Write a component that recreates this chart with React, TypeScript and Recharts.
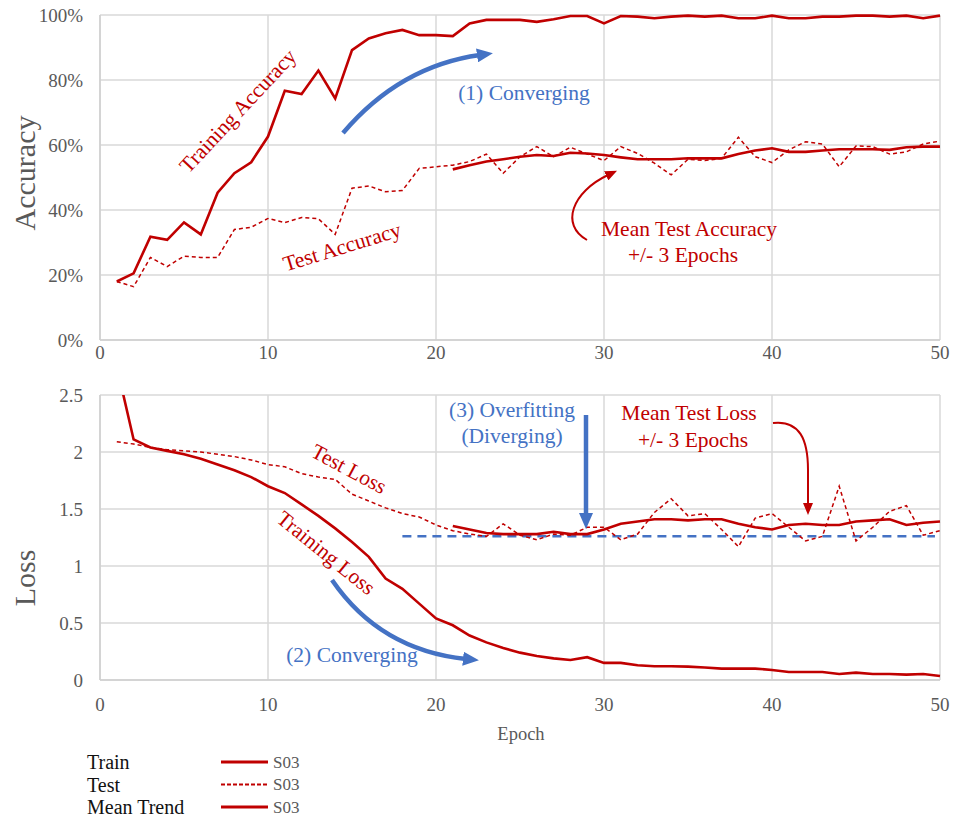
import { LineChart, Line, XAxis, YAxis, CartesianGrid, ReferenceLine } from "recharts";

// ─── Data ─────────────────────────────────────────
const epochs = [
  1, 2, 3, 4, 5, 6, 7, 8, 9, 10, 11, 12, 13, 14, 15, 16, 17, 18, 19, 20, 21, 22, 23, 24, 25,
  26, 27, 28, 29, 30, 31, 32, 33, 34, 35, 36, 37, 38, 39, 40, 41, 42, 43, 44, 45, 46, 47, 48, 49, 50,
];

const trainAcc = [
  18, 20.5, 31.8, 30.8, 36.2, 32.5, 45.3, 51.3, 54.7, 62.6,
  76.7, 75.7, 82.9, 74.3, 89.2, 92.8, 94.4, 95.4, 93.8, 93.8,
  93.5, 97.4, 98.5, 98.5, 98.5, 97.9, 98.7, 99.7, 99.7, 97.4,
  99.7, 99.5, 99, 99.5, 99.8, 99.5, 99.8, 99, 99, 99.8,
  99, 99, 99.5, 99.5, 99.8, 99.8, 99.5, 99.8, 99, 99.8,
];

const testAcc = [
  18, 16.4, 25.4, 22.6, 25.8, 25.4, 25.4, 34, 34.7, 37.4,
  36.1, 37.7, 37.3, 32.5, 46.7, 47.4, 45.6, 46, 52.8, 53.3,
  53.8, 54.9, 57.2, 51.3, 56.4, 59.5, 56.4, 59.3, 57.2, 55.2,
  59.5, 57.4, 54.4, 50.8, 55.6, 55.2, 55.9, 62.4, 56.4, 54.6,
  58.5, 61, 60.3, 53.3, 59.7, 59.5, 57.2, 57.9, 60.3, 61.2,
];

// mean trend (+/- 3 epochs) starts at epoch 21
const meanStart = 21;
const meanTestAcc = [
  52.5, 53.8, 54.9, 55.6, 56.4, 56.9, 56.6, 57.6, 57.4, 56.9,
  56.2, 55.6, 55.6, 55.6, 55.9, 55.9, 55.9, 57.2, 58.3, 59,
  57.9, 57.9, 58.3, 58.7, 58.7, 58.7, 58.5, 59.3, 59.5, 59.5,
];

const trainLoss = [
  2.75, 2.11, 2.04, 2.01, 1.98, 1.94, 1.89, 1.84, 1.78, 1.7,
  1.64, 1.54, 1.44, 1.33, 1.21, 1.08, 0.89, 0.8, 0.67, 0.54,
  0.48, 0.39, 0.33, 0.28, 0.24, 0.21, 0.19, 0.175, 0.2, 0.15,
  0.15, 0.13, 0.12, 0.12, 0.117, 0.11, 0.1, 0.1, 0.1, 0.088,
  0.07, 0.07, 0.07, 0.053, 0.065, 0.053, 0.053, 0.047, 0.053, 0.035,
];

const testLoss = [
  2.09, 2.07, 2.04, 2.02, 2.01, 2.0, 1.98, 1.96, 1.93, 1.89,
  1.87, 1.81, 1.78, 1.76, 1.63, 1.57, 1.51, 1.46, 1.43, 1.36,
  1.31, 1.28, 1.26, 1.37, 1.27, 1.23, 1.28, 1.27, 1.34, 1.34,
  1.23, 1.28, 1.47, 1.59, 1.44, 1.46, 1.32, 1.17, 1.42, 1.46,
  1.34, 1.22, 1.26, 1.7, 1.22, 1.34, 1.48, 1.53, 1.27, 1.31,
];

const meanTestLoss = [
  1.35, 1.32, 1.29, 1.28, 1.28, 1.28, 1.3, 1.28, 1.28, 1.32,
  1.37, 1.39, 1.41, 1.41, 1.4, 1.41, 1.41, 1.37, 1.34, 1.32,
  1.36, 1.37, 1.36, 1.36, 1.39, 1.4, 1.41, 1.36, 1.38, 1.39,
];

const overfitLevel = 1.26;
const overfitFrom = 18;
const overfitTo = 49.7;

const xTicks = [0, 10, 20, 30, 40, 50];
const accTicks = [0, 20, 40, 60, 80, 100];
const lossTicks = [0, 0.5, 1, 1.5, 2, 2.5];

const legendRows = [
  { label: "Train", dash: undefined },
  { label: "Test", dash: "4 2" },
  { label: "Mean Trend", dash: undefined },
];

// ─── Tables ───────────────────────────────────────
const accData = epochs.map((e, i) => ({
  epoch: e,
  train: trainAcc[i],
  test: testAcc[i],
  mean: e >= meanStart ? meanTestAcc[e - meanStart] : null,
}));

const lossData = epochs.map((e, i) => ({
  epoch: e,
  train: trainLoss[i],
  test: testLoss[i],
  mean: e >= meanStart ? meanTestLoss[e - meanStart] : null,
}));

// ─── Styles ───────────────────────────────────────
const RED = "#C00000";
const BLUE = "#4472C4";
const GRID = "#d9d9d9";
const FONT = "'Liberation Serif', 'Times New Roman', serif";
const tick = { fontFamily: FONT, fontSize: 19, fill: "#595959" };
const ANN = 21.5; // annotation font size

export default function App() {
  const lines = (
    <>
      <Line type="linear" dataKey="test" stroke={RED} strokeWidth={1.5} strokeDasharray="4 3" dot={false} isAnimationActive={false} />
      <Line type="linear" dataKey="train" stroke={RED} strokeWidth={2.6} dot={false} isAnimationActive={false} />
      <Line type="linear" dataKey="mean" stroke={RED} strokeWidth={2.6} dot={false} isAnimationActive={false} />
    </>
  );

  return (
    <div style={{ position: "absolute", left: 0, top: 0, width: 955, height: 818, background: "#fff", fontFamily: FONT }}>
      <style>{`svg text, svg tspan { font-family: 'Liberation Serif', 'Times New Roman', serif !important; }`}</style>
      <div style={{ position: "absolute", left: 0, top: 0 }}>
        <LineChart width={955} height={370} data={accData} margin={{ top: 15, right: 15, left: 0, bottom: 0 }}>
          <CartesianGrid stroke={GRID} strokeWidth={1.5} />
          <XAxis
            dataKey="epoch"
            type="number"
            domain={[0, 50]}
            ticks={xTicks}
            height={30}
            tick={tick}
            tickLine={false}
            tickMargin={0}
            axisLine={{ stroke: "#cfcfcf", strokeWidth: 1.5 }}
          />
          <YAxis
            type="number"
            domain={[0, 100]}
            ticks={accTicks}
            width={100}
            tick={tick}
            tickLine={false}
            tickMargin={11}
            axisLine={{ stroke: "#cfcfcf", strokeWidth: 1.5 }}
            tickFormatter={(v: number) => `${v}%`}
          />
          {lines}
        </LineChart>
      </div>

      <div style={{ position: "absolute", left: 0, top: 370 }}>
        <LineChart width={955} height={372} data={lossData} margin={{ top: 25, right: 15, left: 0, bottom: 0 }}>
          <CartesianGrid stroke={GRID} strokeWidth={1.5} />
          <XAxis
            dataKey="epoch"
            type="number"
            domain={[0, 50]}
            ticks={xTicks}
            height={62}
            tick={tick}
            tickLine={false}
            tickMargin={12}
            axisLine={{ stroke: "#cfcfcf", strokeWidth: 1.5 }}
          />
          <YAxis
            type="number"
            domain={[0, 2.5]}
            allowDataOverflow
            ticks={lossTicks}
            width={100}
            tick={tick}
            tickLine={false}
            tickMargin={11}
            axisLine={{ stroke: "#cfcfcf", strokeWidth: 1.5 }}
          />
          <ReferenceLine
            segment={[
              { x: overfitFrom, y: overfitLevel },
              { x: overfitTo, y: overfitLevel },
            ]}
            stroke={BLUE}
            strokeWidth={2.5}
            strokeDasharray="9 6"
          />
          {lines}
        </LineChart>
      </div>

      {/* annotations, axis titles and legend */}
      <svg width={955} height={818} style={{ position: "absolute", left: 0, top: 0, pointerEvents: "none" }} fontFamily={FONT}>
        <defs>
          <marker id="blueHead" markerUnits="userSpaceOnUse" markerWidth={16} markerHeight={14} refX={3} refY={7} orient="auto">
            <path d="M0,0 L16,7 L0,14 z" fill={BLUE} />
          </marker>
          <marker id="redHead" markerUnits="userSpaceOnUse" markerWidth={12} markerHeight={10} refX={2} refY={5} orient="auto">
            <path d="M0,0 L12,5 L0,10 z" fill={RED} />
          </marker>
        </defs>

        <text x={24} y={173} fontSize={30} fill="#595959" textAnchor="middle" dominantBaseline="central" transform="rotate(-90 24 173)">
          Accuracy
        </text>
        <text x={24} y={578} fontSize={30} fill="#595959" textAnchor="middle" dominantBaseline="central" transform="rotate(-90 24 578)">
          Loss
        </text>
        <text x={521} y={734} fontSize={18.5} fill="#595959" textAnchor="middle" dominantBaseline="central">
          Epoch
        </text>

        {/* accuracy panel */}
        <text x={238} y={111} fontSize={ANN} fill={RED} textAnchor="middle" dominantBaseline="central" transform="rotate(-47 238 111)">
          Training Accuracy
        </text>
        <text x={342} y={247} fontSize={ANN} fill={RED} textAnchor="middle" dominantBaseline="central" transform="rotate(-17 342 247)">
          Test Accuracy
        </text>
        <path d="M343,133 Q400,66 480,55" fill="none" stroke={BLUE} strokeWidth={4.5} markerEnd="url(#blueHead)" />
        <text x={524} y={93} fontSize={ANN} fill={BLUE} textAnchor="middle" dominantBaseline="central">
          (1) Converging
        </text>
        <text x={689} y={229} fontSize={ANN} fill={RED} textAnchor="middle" dominantBaseline="central">
          Mean Test Accuracy
        </text>
        <text x={683} y={255} fontSize={ANN} fill={RED} textAnchor="middle" dominantBaseline="central">
          +/- 3 Epochs
        </text>
        <path d="M587,240 C560,225 572,192 608,175" fill="none" stroke={RED} strokeWidth={2} markerEnd="url(#redHead)" />

        {/* loss panel */}
        <text x={349} y={469} fontSize={ANN} fill={RED} textAnchor="middle" dominantBaseline="central" transform="rotate(28 349 469)">
          Test Loss
        </text>
        <text x={326} y={553} fontSize={ANN} fill={RED} textAnchor="middle" dominantBaseline="central" transform="rotate(39 326 553)">
          Training Loss
        </text>
        <path d="M332,580 Q380,650 466,659" fill="none" stroke={BLUE} strokeWidth={4.5} markerEnd="url(#blueHead)" />
        <text x={352} y={655} fontSize={ANN} fill={BLUE} textAnchor="middle" dominantBaseline="central">
          (2) Converging
        </text>
        <text x={512} y={410} fontSize={ANN} fill={BLUE} textAnchor="middle" dominantBaseline="central">
          (3) Overfitting
        </text>
        <text x={512} y={436} fontSize={ANN} fill={BLUE} textAnchor="middle" dominantBaseline="central">
          (Diverging)
        </text>
        <path d="M586,415 L586,516" fill="none" stroke={BLUE} strokeWidth={4.5} markerEnd="url(#blueHead)" />
        <text x={689} y={413} fontSize={ANN} fill={RED} textAnchor="middle" dominantBaseline="central">
          Mean Test Loss
        </text>
        <text x={693} y={440} fontSize={ANN} fill={RED} textAnchor="middle" dominantBaseline="central">
          +/- 3 Epochs
        </text>
        <path d="M773,423 C800,420 808,440 808,470 L808,505" fill="none" stroke={RED} strokeWidth={2} markerEnd="url(#redHead)" />

        {/* legend */}
        {legendRows.map((r, i) => {
          const y = 762 + i * 22.5;
          return (
            <g key={r.label}>
              <text x={87} y={y} fontSize={20} fill="#111" dominantBaseline="central">
                {r.label}
              </text>
              <line x1={221} x2={268} y1={y} y2={y} stroke={RED} strokeWidth={r.dash ? 2 : 3} strokeDasharray={r.dash} />
              <text x={273} y={y} fontSize={17} fill="#595959" dominantBaseline="central">
                S03
              </text>
            </g>
          );
        })}
      </svg>
    </div>
  );
}
